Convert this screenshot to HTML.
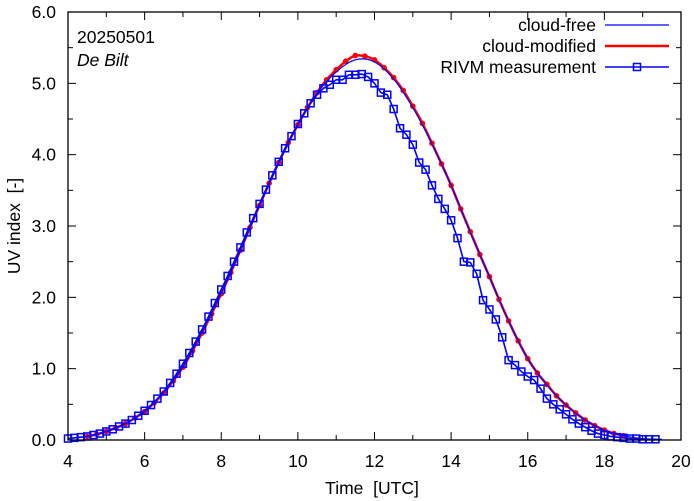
<!DOCTYPE html>
<html><head><meta charset="utf-8"><style>
html,body{margin:0;padding:0;background:#fff;}
svg{display:block;font-family:"Liberation Sans",sans-serif;}
text{white-space:pre;}
</style></head><body>
<svg id="chart" width="694" height="501" viewBox="0 0 694 501">
<rect width="694" height="501" fill="#fff"/>
<g id="axes"></g>
<g id="series"></g>
<rect x="68" y="12" width="613" height="428" fill="none" stroke="#000" stroke-width="1.3"/>
<text x="77" y="43" font-size="17.5">20250501</text>
<text x="77" y="66" font-size="17.5" font-style="italic">De Bilt</text>
<text transform="translate(20,226) rotate(-90)" text-anchor="middle" font-size="17.5">UV index  [-]</text>
<text x="372" y="494" text-anchor="middle" font-size="17.5">Time  [UTC]</text>
<g>
<g>
<text x="596" y="31" text-anchor="end" font-size="17.5">cloud-free</text>
<line x1="605" y1="25" x2="669" y2="25" stroke="#0000ff" stroke-width="1.2"/></g>
<g>
<text x="596" y="52" text-anchor="end" font-size="17.5">cloud-modified</text>
<line x1="605" y1="46" x2="669" y2="46" stroke="#ff0000" stroke-width="2.5"/></g>
<g>
<text x="596" y="73" text-anchor="end" font-size="17.5">RIVM measurement</text>
<line x1="605" y1="67" x2="669" y2="67" stroke="#0000ff" stroke-width="1.6"/>
<rect x="633.5" y="63.5" width="7" height="7" fill="none" stroke="#0000ff" stroke-width="1.5"/></g>
</g>
</svg>
<script>
const xTicks = [4, 6, 8, 10, 12, 14, 16, 18, 20];
const yTicks = [0, 1, 2, 3, 4, 5, 6];
const yTickLabels = ["0.0", "1.0", "2.0", "3.0", "4.0", "5.0", "6.0"];
const clearTimes = [4,4.5,5,5.5,6,6.5,7,7.5,8,8.5,9,9.5,10,10.5,11,11.5,12,12.5,13,13.5,14,14.5,15,15.5,16,16.5,17,17.5,18,18.5,19,19.5];
const clearValues = [0.02,0.05,0.12,0.23,0.40,0.67,1.03,1.52,2.06,2.66,3.29,3.88,4.42,4.86,5.16,5.33,5.30,5.06,4.66,4.15,3.57,2.91,2.29,1.67,1.14,0.77,0.49,0.28,0.14,0.06,0.02,0.01];
const cloudStart = 4.5;
const cloudStep = 0.25;
const cloudValues = [0.05,0.08,0.12,0.17,0.23,0.31,0.40,0.52,0.66,0.83,1.02,1.25,1.50,1.77,2.05,2.35,2.66,2.98,3.29,3.60,3.89,4.17,4.42,4.66,4.87,5.05,5.19,5.31,5.39,5.38,5.33,5.22,5.08,4.90,4.68,4.44,4.16,3.87,3.57,3.24,2.92,2.60,2.29,1.97,1.67,1.39,1.14,0.94,0.78,0.62,0.49,0.38,0.28,0.20,0.14,0.09,0.06];
const measStart = 4;
const measStep = 1/6;
const measValues = [0.02,0.03,0.04,0.05,0.07,0.09,0.12,0.15,0.19,0.23,0.28,0.34,0.41,0.49,0.58,0.68,0.80,0.93,1.07,1.22,1.38,1.55,1.73,1.92,2.11,2.30,2.50,2.70,2.91,3.11,3.31,3.51,3.71,3.90,4.09,4.26,4.43,4.58,4.72,4.84,4.93,4.98,5.05,5.05,5.12,5.12,5.13,5.09,5.00,4.87,4.84,4.64,4.37,4.28,4.14,3.89,3.79,3.57,3.38,3.24,3.08,2.83,2.50,2.49,2.33,1.96,1.83,1.69,1.44,1.12,1.05,0.96,0.89,0.84,0.72,0.58,0.50,0.43,0.36,0.29,0.23,0.18,0.13,0.09,0.07,0.05,0.04,0.03,0.02,0.02,0.01,0.01,0.01];

const X0=68,X1=681,Y0=440,Y1=12;
function xs(t){return X0+(t-4)/16*(X1-X0);}
function ys(v){return Y0-v/6*(Y0-Y1);}
const NS="http://www.w3.org/2000/svg";
function mk(tag,attrs,parent){const e=document.createElementNS(NS,tag);for(const k in attrs)e.setAttribute(k,attrs[k]);parent.appendChild(e);return e;}
const axes=document.getElementById('axes');
const ser=document.getElementById('series');
for(let t=4;t<=20;t+=1){
  const major=(t%2===0), L=major?8:5;
  const a=mk('line',{x1:xs(t),y1:Y0,x2:xs(t),y2:Y0-L,stroke:'#000','stroke-width':1},axes);
  
  
  const b=mk('line',{x1:xs(t),y1:Y1,x2:xs(t),y2:Y1+L,stroke:'#000','stroke-width':1},axes);
  
  
}
xTicks.forEach(t=>{
  const tx=mk('text',{x:xs(t),y:467,'text-anchor':'middle','font-size':17.5},axes);
  tx.textContent=t;
  
  
});
for(let v=0;v<=6.001;v+=0.5){
  const major=Math.abs(v-Math.round(v))<1e-6, L=major?8:5;
  const a=mk('line',{x1:X0,y1:ys(v),x2:X0+L,y2:ys(v),stroke:'#000','stroke-width':1},axes);
  
  
  const b=mk('line',{x1:X1,y1:ys(v),x2:X1-L,y2:ys(v),stroke:'#000','stroke-width':1},axes);
  
  
}
yTicks.forEach((v,i)=>{
  const tx=mk('text',{x:56,y:ys(v)+6,'text-anchor':'end','font-size':17.5},axes);
  tx.textContent=yTickLabels[i];
  
  
});
function smoothPath(pts){
  let d='M'+pts[0][0]+','+pts[0][1];
  for(let i=0;i<pts.length-1;i++){
    const p0=pts[Math.max(0,i-1)],p1=pts[i],p2=pts[i+1],p3=pts[Math.min(pts.length-1,i+2)];
    const c1=[p1[0]+(p2[0]-p0[0])/6,p1[1]+(p2[1]-p0[1])/6];
    const c2=[p2[0]-(p3[0]-p1[0])/6,p2[1]-(p3[1]-p1[1])/6];
    d+=' C'+c1[0]+','+c1[1]+' '+c2[0]+','+c2[1]+' '+p2[0]+','+p2[1];
  }
  return d;
}
const cPts=cloudValues.map((v,i)=>[xs(cloudStart+i*cloudStep),ys(v)]);
const cl=mk('path',{d:smoothPath(cPts),fill:'none',stroke:'#ff0000','stroke-width':2.5},ser);


cPts.forEach(p=>{
  const c=mk('circle',{cx:p[0],cy:p[1],r:2.8,fill:'#ff0000'},ser);
  
  
});
const fPts=clearValues.map((v,i)=>[xs(clearTimes[i]),ys(v)]);
const fl=mk('path',{d:smoothPath(fPts),fill:'none',stroke:'#0000ff','stroke-width':1.2},ser);


const mPts=measValues.map((v,i)=>[xs(measStart+i*measStep),ys(v)]);
const ml=mk('polyline',{points:mPts.map(p=>p.join(',')).join(' '),fill:'none',stroke:'#0000ff','stroke-width':1.6},ser);


mPts.forEach(p=>{
  const r=mk('rect',{x:p[0]-3.5,y:p[1]-3.5,width:7,height:7,fill:'none',stroke:'#0000ff','stroke-width':1.5},ser);
  
  
});
</script>
</body></html>
